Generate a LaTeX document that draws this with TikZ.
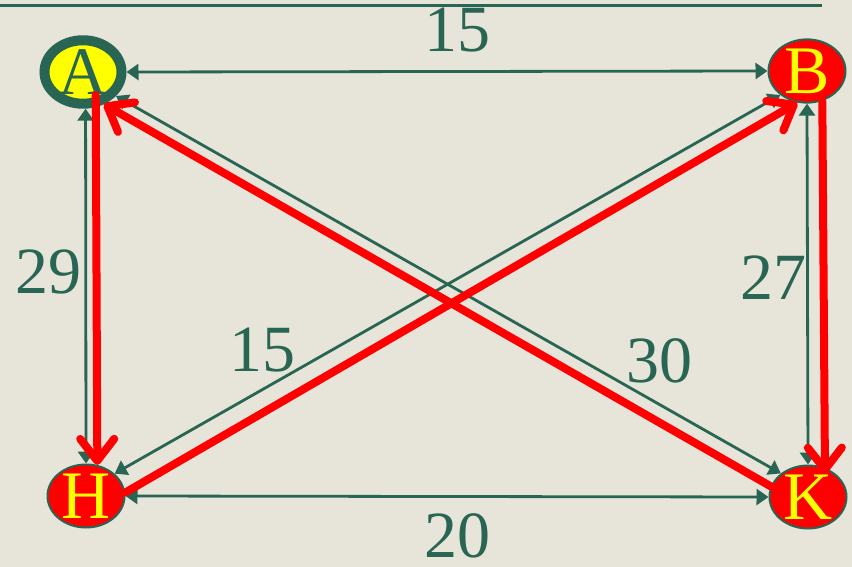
\documentclass[tikz,border=0pt]{standalone}
\usepackage{fontspec}
\setmainfont{Liberation Serif}
\usetikzlibrary{shapes.geometric,arrows.meta}
\definecolor{graphGreen}{RGB}{40,101,83}
\definecolor{graphRed}{RGB}{255,0,0}
\definecolor{graphYellow}{RGB}{255,255,0}
\definecolor{paperBeige}{RGB}{231,228,217}
\tikzset{
  vertex/.style={ellipse,draw=graphGreen,fill=graphRed,text=graphYellow,line width=1pt,
    minimum width=38.5pt,minimum height=31.5pt,inner sep=0pt,font=\fontsize{34}{38}\selectfont},
  greenlink/.style={draw=graphGreen,line width=1.4pt,
    {Triangle[length=6pt,width=8pt]}-{Triangle[length=6pt,width=8pt]}},
  redlink/.style={draw=graphRed,line width=4pt,line cap=round,
    -{Straight Barb[length=11pt,width=17pt,round]}},
  weight/.style={text=graphGreen,font=\fontsize{33}{38}\selectfont,inner sep=0pt}
}

\begin{document}
\begin{tikzpicture}[x=0.5pt,y=-0.5pt]
\fill[paperBeige] (0,0) rectangle (852,567);
\useasboundingbox (0,0) rectangle (852,567);
\draw[graphGreen,line width=1.5pt] (0,6) -- (822,6);

% vertices
\node[vertex,fill=graphYellow,text=graphGreen,line width=5pt] (A) at (83,72) {A};
\node[vertex] (B) at (807,71) {B};
\node[vertex] (H) at (86,496) {H};
\node[vertex] (K) at (808,497) {K};

% weights
\node[weight] (lAB) at (457,30) {15};
\node[weight] (lAH) at (49,272) {29};
\node[weight] (lBK) at (773,278) {27};
\node[weight] (lHB) at (262,350) {15};
\node[weight] (lAK) at (659,361) {30};
\node[weight] (lHK) at (457,536) {20};

% all edges
\draw[greenlink] (A.east) -- (B.west);
\draw[greenlink] (A.-86) -- (H.north);
\draw[greenlink] (B.south) -- (K.north);
\draw[greenlink] (H.east) -- (K.west);
\draw[greenlink] (A.-36) -- (K.139);
\draw[greenlink] (H.38) -- (B.-138);

% chosen tour
\draw[redlink,shorten <=-6pt] (A.-70) -- (H.70);
\draw[redlink] (H.5) -- (B.-107);
\draw[redlink,shorten >=-3pt] (B.-63) -- (K.60);
\draw[redlink] (K.164) -- (A.-57);
\end{tikzpicture}
\end{document}
